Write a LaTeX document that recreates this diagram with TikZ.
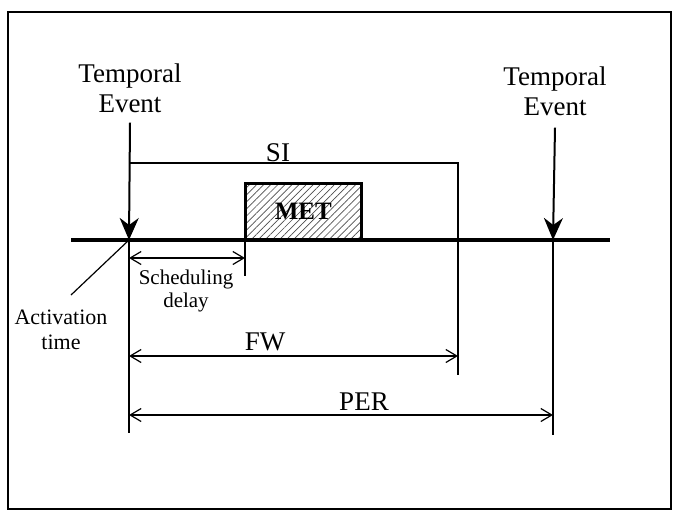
\documentclass[tikz,border=0pt]{standalone}
\usepackage{fontspec}
\setmainfont{Liberation Serif}
\usetikzlibrary{arrows.meta,patterns.meta}

\begin{document}
\begin{tikzpicture}[
  x=1pt, y=-1pt,
  bigtext/.style={font=\fontsize{27}{30}\selectfont, align=center, inner sep=0pt},
  smalltext/.style={font=\fontsize{21}{23}\selectfont, align=center, inner sep=0pt},
  metbox/.style={draw, line width=3pt, font=\fontsize{25}{28}\selectfont\bfseries,
    pattern={Lines[angle=45, distance=5pt, line width=0.7pt]}, pattern color=black!70,
    minimum width=116pt, minimum height=56pt, anchor=south west, inner sep=0pt},
  event/.style={-{Stealth[length=22pt, width=19pt, inset=7pt]}, line width=2pt},
  dim/.style={{Straight Barb[length=11pt, width=13pt]}-{Straight Barb[length=11pt, width=13pt]}, line width=1.2pt},
  guide/.style={line width=1.2pt},
  axis/.style={line width=4pt}
]
\useasboundingbox (0,0) rectangle (675,512);
\draw[line width=1.5pt] (8,12) rectangle (671,509);

% time axis and instants
\coordinate (axisL) at (71,240);
\coordinate (axisR) at (610,240);
\coordinate (actT) at (129,240);
\coordinate (nextT) at (553,240);
\coordinate (actB) at (129,433);
\coordinate (nextB) at (553,435);
\coordinate (siL) at (129,163);
\coordinate (siR) at (458,163);
\coordinate (fwB) at (458,375);
\coordinate (schedB) at (245,276);
\coordinate (actTip) at (71,295);

\node[bigtext] (evL) at (130,88) {Temporal\\Event};
\node[bigtext] (evR) at (555,91) {Temporal\\Event};
\node[bigtext] (si) at (278,153) {SI};
\node[metbox] (met) at (245,240) {MET};
\node[smalltext] (sched) at (186,291) {Scheduling\\delay};
\node[smalltext, font=\fontsize{22}{25}\selectfont] (act) at (61,330) {Activation\\time};
\node[bigtext] (fw) at (265,342) {FW};
\node[bigtext] (per) at (364,402) {PER};

\draw[axis] (axisL) -- (axisR);
\draw[event] ([yshift=-10pt]evL.south) -- (actT);
\draw[event] ([yshift=-12pt]evR.south) -- (nextT);

\draw[guide] (siL) -- (siR) -- (fwB);
\draw[guide] (actT) -- (actB);
\draw[guide] (nextT) -- (nextB);
\draw[guide] (met.south west) -- (schedB);
\draw[guide] (actT) -- (actTip);

\draw[dim] (actT |- 0,258) -- (met.south west |- 0,258);
\draw[dim] (actT |- 0,356) -- (fwB |- 0,356);
\draw[dim] (actT |- 0,415) -- (nextT |- 0,415);
\end{tikzpicture}
\end{document}
